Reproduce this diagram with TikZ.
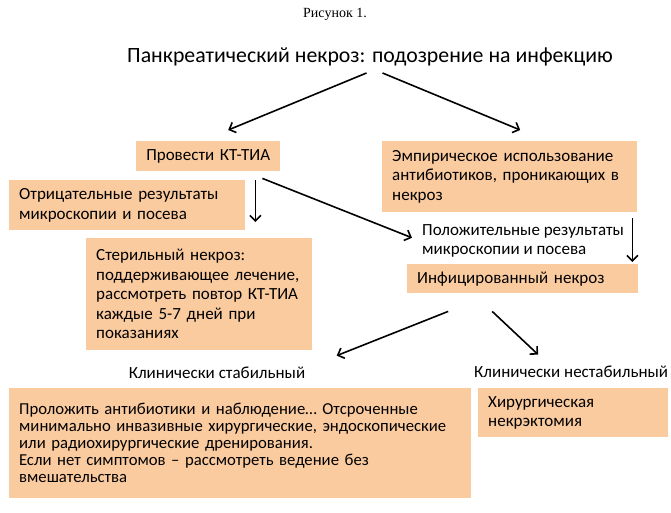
\documentclass[tikz,border=0pt]{standalone}
\usepackage{fontspec}
\setmainfont{Carlito}
\newfontfamily\capfont{Liberation Serif}
\usetikzlibrary{arrows.meta,calc}
\definecolor{peach}{RGB}{251,203,160}

\begin{document}
\begin{tikzpicture}[x=1pt,y=-1pt,
    box/.style={fill=peach,anchor=north west,inner xsep=10pt,inner ysep=0pt,align=left,font=\fontsize{17}{19.5}\selectfont},
    lab/.style={font=\fontsize{17}{19.5}\selectfont},
    arr/.style={-{Straight Barb[length=5.5pt,width=11pt]},line width=1.6pt}]
          \useasboundingbox (0,0) rectangle (671,512);
          % Caption and heading
          \node[font=\capfont\fontsize{14}{16}\selectfont] (fig) at (335,14) {Рисунок 1.};
          \node[font=\fontsize{21.8}{25}\selectfont] (title) at (370,57) {Панкреатический некроз: подозрение на инфекцию};
          % Left branch
          \node[box,inner xsep=6pt,text width=132pt,align=center,minimum height=30pt] (kt) at (136,141) {Провести КТ-ТИА};
          \node[box,text width=216pt,minimum height=50pt] (neg) at (9,180) {Отрицательные результаты\\микроскопии и посева};
          \node[box,text width=206pt,minimum height=112pt] (sterile) at (86,238) {Стерильный некроз:\\поддерживающее лечение,\\рассмотреть повтор КТ-ТИА\\каждые 5-7 дней при\\показаниях};
          % Right branch
          \node[box,text width=235pt,minimum height=71pt] (emp) at (382,141) {Эмпирическое использование\\антибиотиков, проникающих в\\некроз};
          \node[lab,anchor=north west,align=left,inner sep=4pt] (pos) at (418,220) {Положительные результаты\\микроскопии и посева};
          \node[box,text width=211pt,minimum height=29pt] (infected) at (407,264) {Инфицированный некроз};
          % Outcomes
          \node[lab] (stable) at (217,373) {Клинически стабильный};
          \node[lab,anchor=west,inner xsep=0pt] (unstable) at (474,372) {Клинически нестабильный};
          \node[box,text width=442pt,minimum height=110pt,font=\fontsize{16.7}{17}\selectfont] (conserv) at (9,388) {Проложить антибиотики и наблюдение… Отсроченные\\минимально инвазивные хирургические, эндоскопические\\или радиохирургические дренирования.\\Если нет симптомов – рассмотреть ведение без\\вмешательства};
          \node[box,text width=170pt,minimum height=49pt] (surg) at (478,388) {Хирургическая\\некрэктомия};
          % Arrows
          \draw[arr] ([shift={(-3.5pt,-16pt)}]title.center) -- ([shift={(20pt,11pt)}]kt.north);
          \draw[arr] ([shift={(12.5pt,-16pt)}]title.center) -- ([shift={(10.5pt,11pt)}]emp.north);
          \draw[arr] ([shift={(-25pt,-9pt)}]kt.south east) coordinate (d) -- ($(d |- sterile.north)+(0,16pt)$);
          \draw[arr] ([shift={(-18pt,-7pt)}]kt.south east) -- ([shift={(-6pt,3pt)}]pos.west);
          \draw[arr] ([shift={(-5pt,-6pt)}]emp.south east) coordinate (e) -- ($(e |- infected.north)+(0,2pt)$);
          \draw[arr] ([shift={(-74.5pt,-18pt)}]infected.south) -- ([shift={(28pt,8pt)}]stable.north east);
          \draw[arr] ([shift={(-30.5pt,-18pt)}]infected.south) -- ([shift={(-33pt,8pt)}]unstable.north);
        \end{tikzpicture}
\end{document}
